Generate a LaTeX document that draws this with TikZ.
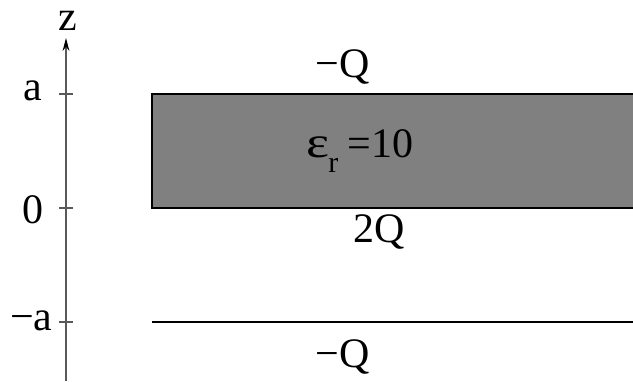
\documentclass[tikz,border=0pt]{standalone}
\usepackage{fontspec}
\setmainfont{Liberation Serif}
\usetikzlibrary{arrows.meta,positioning}

\begin{document}
\begin{tikzpicture}[
  x=0.5pt, y=-0.5pt,
  lbl/.style={font=\fontsize{21}{24}\selectfont, inner sep=0pt, anchor=base},
  axisline/.style={-{Stealth[length=6.5pt,width=3.4pt,color=black]}, line width=0.6pt, color=black!65},
  tickmark/.style={line width=0.6pt, color=black!65},
  plate/.style={line width=1pt, color=black},
  slab/.style={fill=black!50}
]
\useasboundingbox (0,0) rectangle (633,381);

%% ===== axis =====
\coordinate (zbot) at (66,381);
\coordinate (ztop) at (66,38);
\draw[axisline] (zbot) -- (ztop);
\node[lbl] (zl) at (68,30) {z};

\foreach \yy/\nm in {94/a, 208/zero, 322/ma} {
  \coordinate (t\nm l) at (59,\yy);
  \coordinate (t\nm r) at (73,\yy);
  \draw[tickmark] (t\nm l) -- (t\nm r);
}
\node[lbl, anchor=base east] (la) at (43,100) {a};
\node[lbl, anchor=base east] (l0) at (44,223) {0};
\node[lbl, anchor=base east] (lma) at (53,330) {−a};

%% ===== slab and plates =====
\coordinate (s1) at (152,94);
\coordinate (s2) at (633,94);
\coordinate (s3) at (633,208);
\coordinate (s4) at (152,208);
\fill[slab] (s1) rectangle (s3);
\draw[plate] (s2) -- (s1) -- (s4) -- (s3);

\coordinate (p1) at (152,322);
\coordinate (p2) at (633,322);
\draw[plate] (p1) -- (p2);

%% ===== charges =====
\node[lbl] (qtop) at (343,77) {−Q};
\node[lbl, anchor=base west] (eps) at (306,157)
  {\scalebox{1.3}[1.05]{ε}\hspace{-0.5pt}\raisebox{-0.36em}{\fontsize{15}{18}\selectfont r}\hspace{4.5pt}=10};
\node[lbl] (q2) at (379,242) {2Q};
\node[lbl] (qbot) at (343,367) {−Q};

\end{tikzpicture}
\end{document}
